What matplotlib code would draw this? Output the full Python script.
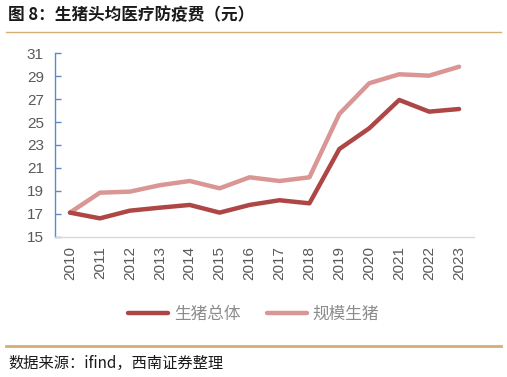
import matplotlib
matplotlib.use("Agg")
import matplotlib.pyplot as plt
from matplotlib.lines import Line2D

plt.rcParams['font.family'] = ['Noto Sans CJK SC', 'DejaVu Sans']

years = ['2010', '2011', '2012', '2013', '2014', '2015', '2016',
         '2017', '2018', '2019', '2020', '2021', '2022', '2023']
total = [17.1, 16.6, 17.27, 17.53, 17.77, 17.1, 17.77,
         18.18, 17.91, 22.65, 24.46, 26.93, 25.91, 26.14]
scale = [17.1, 18.84, 18.93, 19.49, 19.86, 19.22, 20.18,
         19.86, 20.18, 25.71, 28.39, 29.17, 29.05, 29.83]
series_names = ['生猪总体', '规模生猪']
yticks = [15, 17, 19, 21, 23, 25, 27, 29, 31]

dark = '#AE4645'
light = '#D99694'

fig = plt.figure(figsize=(5.07, 3.77), dpi=100)
ax = fig.add_axes([0.1085, 0.3722, 0.8265, 0.4864])

x = list(range(len(years)))
ax.plot(x, total, color=dark, lw=3.2, solid_capstyle='round', solid_joinstyle='round', label=series_names[0], zorder=3)
ax.plot(x, scale, color=light, lw=3.2, solid_capstyle='round', solid_joinstyle='round', label=series_names[1], zorder=2)

ax.set_xlim(-0.5, len(years) - 0.5)
ax.set_ylim(15, 31)
ax.set_yticks(yticks)
ax.set_xticks(x)
ax.set_xticklabels(years, rotation=90)

for s in ['top', 'right']:
    ax.spines[s].set_visible(False)
ax.spines['left'].set_color('#5B8BC9')
ax.spines['left'].set_linewidth(1.0)
ax.spines['bottom'].set_color('#D9D9D9')
ax.spines['bottom'].set_linewidth(1.0)
ax.tick_params(axis='y', direction='in', length=4.5, width=1.0, color='#5B8BC9',
               labelcolor='#595959', labelsize=11, pad=8)
ax.tick_params(axis='x', length=0, labelcolor='#595959', labelsize=11, pad=7)
for lab in ax.get_yticklabels() + ax.get_xticklabels():
    lab.set_family(['Liberation Sans', 'DejaVu Sans'])

handles = [Line2D([0], [0], color=dark, lw=3.2, solid_capstyle='round'),
           Line2D([0], [0], color=light, lw=3.2, solid_capstyle='round')]
leg = fig.legend(handles, series_names, loc='center', bbox_to_anchor=(0.5, (377 - 314) / 377),
                 ncol=2, frameon=False, fontsize=12, handlelength=2.4, columnspacing=1.6,
                 handletextpad=0.35)
for t in leg.get_texts():
    t.set_color('#8C8C8C')

fig.text(8 / 507, 1 - 15 / 377, '图 8：生猪头均医疗防疫费（元）', fontsize=12, fontweight='bold',
         color='#1A1A1A', ha='left', va='center')
fig.add_artist(Line2D([6 / 507, 501 / 507], [1 - 31.5 / 377] * 2, color='#D6AE74', lw=1.0))
fig.add_artist(Line2D([6 / 507, 501 / 507], [1 - 345.5 / 377] * 2, color='#D6AE74', lw=2.0))
fig.text(8 / 507, 1 - 363 / 377, '数据来源：ifind，西南证券整理', fontsize=11, style='italic',
         color='#1A1A1A', ha='left', va='center')

fig.savefig('out.png', dpi=100)
